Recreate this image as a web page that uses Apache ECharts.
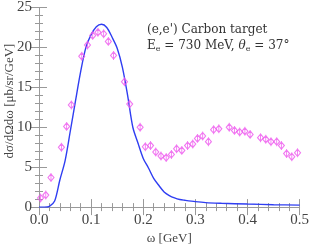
<!DOCTYPE html>
<html><head><meta charset="utf-8">
<script src="https://cdn.jsdelivr.net/npm/echarts@6/dist/echarts.min.js"></script>
<style>html,body{margin:0;padding:0;background:#fff}#c{width:312px;height:250px}</style>
</head><body><div id="c"></div>
<script>
// Theory curve
const curveOmega = [0.00,0.01,0.02,0.03,0.04,0.05,0.06,0.07,0.08,0.09,0.10,0.11,0.12,0.13,0.14,0.15,0.16,0.17,0.18,0.19,0.20,0.21,0.22,0.23,0.24,0.25,0.26,0.27,0.28,0.30,0.32,0.35,0.40,0.45,0.50];
const curveSigma = [0.0,0.0,0.1,0.75,3.4,5.8,9.5,13.3,17.0,20.0,21.6,22.6,22.9,22.5,21.3,19.9,17.5,14.0,10.0,8.0,6.1,4.9,3.6,2.7,1.9,1.45,1.15,0.95,0.85,0.68,0.56,0.48,0.38,0.30,0.25];
// Experimental data
const dataOmega = [0.003,0.013,0.023,0.043,0.053,0.062,0.082,0.093,0.103,0.113,0.124,0.133,0.143,0.164,0.174,0.194,0.204,0.214,0.224,0.234,0.244,0.254,0.264,0.274,0.285,0.295,0.304,0.314,0.325,0.335,0.345,0.365,0.375,0.385,0.395,0.405,0.425,0.435,0.445,0.456,0.465,0.475,0.485,0.496];
const dataSigma = [1.13,1.5,3.7,7.5,10.1,12.8,18.9,20.3,21.5,21.9,21.7,20.75,19.0,15.7,12.9,10.0,7.55,7.7,6.9,6.4,6.2,6.6,7.3,7.1,7.7,7.9,8.6,8.9,8.2,9.7,9.8,10.0,9.6,9.4,9.5,9.1,8.7,8.5,8.2,8.2,7.7,6.7,6.3,6.8];
const xTicks = ['0.0','0.1','0.2','0.3','0.4','0.5'];

const font = 'Liberation Serif';
const font2 = 'DejaVu Serif';
const axisCol = '#999';
const chart = echarts.init(document.getElementById('c'));
const common = {
  axisLine:{show:true,lineStyle:{color:axisCol,width:1}},
  axisTick:{show:true,inside:true,length:8,lineStyle:{color:axisCol}},
  minorTick:{show:true,splitNumber:5,length:4,lineStyle:{color:axisCol}},
  splitLine:{show:false}
};
chart.setOption({
  animation:false,
  grid:{left:39,right:10,top:5,bottom:34},
  xAxis:[
    Object.assign({type:'value',min:0,max:0.5,interval:0.1,position:'bottom',
      axisLabel:{color:'#444',fontFamily:font,fontSize:15,margin:5,
        formatter:(v)=>xTicks[Math.round(v*10)]},
      name:'ω [GeV]',nameLocation:'middle',nameGap:21,
      nameTextStyle:{color:'#444',fontFamily:font,fontSize:13}},common),
    Object.assign({type:'value',min:0,max:0.5,interval:0.1,position:'top',axisLabel:{show:false}},common)
  ],
  yAxis:[
    Object.assign({type:'value',min:0,max:25,interval:5,position:'left',
      axisLabel:{color:'#444',fontFamily:font,fontSize:15,margin:7}},common),
    Object.assign({type:'value',min:0,max:25,interval:5,position:'right',axisLabel:{show:false}},common)
  ],
  graphic:[
    {type:'text',x:10,y:101,rotation:Math.PI/2,style:{text:'dσ/dΩdω [μb/sr/GeV]',fill:'#444',
      font:'13px '+font,align:'center',verticalAlign:'middle'}},
    {type:'text',left:147,top:24,style:{text:"(e,e') Carbon target",fill:'#333',font:'12px '+font2}},
    {type:'text',left:147,top:40,style:{
      text:'{n|E}{s|e}{n| = 730 MeV, }{i|θ}{s|e}{n| = 37°}',
      rich:{n:{fill:'#333',font:'12px '+font2},i:{fill:'#333',font:'italic 12px '+font2},s:{fill:'#333',font:'8px '+font2,padding:[6,0,0,0]}}}}
  ],
  series:[
    {type:'line',data:curveOmega.map((x,i)=>[x,curveSigma[i]]),smooth:0.3,showSymbol:false,
      lineStyle:{color:'#2f3ef2',width:1.4},z:2},
    {type:'scatter',data:dataOmega.map((x,i)=>[x,dataSigma[i]]),
      symbol:'path://M0,-4 L3,0 L0,4 L-3,0 Z M0,-5 L0,5',symbolSize:[6,9],
      itemStyle:{color:'rgba(255,255,255,0)',borderColor:'#ee55ee',borderWidth:1.1},z:3}
  ]
});
</script></body></html>
